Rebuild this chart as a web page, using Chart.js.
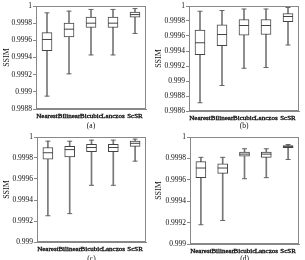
<!DOCTYPE html>
<html>
<head>
<meta charset="utf-8">
<script src="https://cdn.jsdelivr.net/npm/chart.js@4.4.0/dist/chart.umd.min.js"></script>
<style>
  html, body { margin: 0; padding: 0; background: #fff; }
  #wrap { position: relative; width: 305px; height: 260px; overflow: hidden; }
  .panel { position: absolute; }
</style>
</head>
<body>
<div id="wrap">
  <div class="panel" style="left:0;top:0;width:152px;height:131px"><canvas id="chartA"></canvas></div>
  <div class="panel" style="left:152px;top:0;width:153px;height:131px"><canvas id="chartB"></canvas></div>
  <div class="panel" style="left:0;top:130px;width:152px;height:134px"><canvas id="chartC"></canvas></div>
  <div class="panel" style="left:152px;top:130px;width:153px;height:134px"><canvas id="chartD"></canvas></div>
</div>
<script>
// categories
const methods = ["Nearest", "Bilinear", "Bicubic", "Lanczos", "ScSR"];

// (a)
const minA = [0.99895, 0.99921, 0.99943, 0.99943, 0.99968];
const q1A  = [0.99948, 0.99964, 0.99975, 0.99975, 0.99987];
const medA = [0.99961, 0.99973, 0.99980, 0.99980, 0.99990];
const q3A  = [0.99969, 0.99980, 0.99987, 0.99987, 0.99993];
const maxA = [0.99992, 0.99994, 0.99996, 0.99996, 0.99997];
const ticksA = [0.9988, 0.999, 0.9992, 0.9994, 0.9996, 0.9998, 1];

// (b)
const minB = [0.99871, 0.99894, 0.99917, 0.99918, 0.99948];
const q1B  = [0.99935, 0.99947, 0.99961, 0.99962, 0.99979];
const medB = [0.99951, 0.99962, 0.99974, 0.99974, 0.99986];
const q3B  = [0.99968, 0.99975, 0.99982, 0.99982, 0.99990];
const maxB = [0.99993, 0.99994, 0.99996, 0.99996, 0.99998];
const ticksB = [0.9986, 0.9988, 0.999, 0.9992, 0.9994, 0.9996, 0.9998, 1];

// (c)
const minC = [0.99925, 0.99927, 0.99954, 0.99954, 0.99977];
const q1C  = [0.99979, 0.99981, 0.99986, 0.99986, 0.99991];
const medC = [0.99985, 0.99988, 0.99990, 0.99990, 0.99994];
const q3C  = [0.99990, 0.99991, 0.99993, 0.99993, 0.99996];
const maxC = [0.99996, 0.99996, 0.99997, 0.99997, 0.99998];
const ticksC = [0.999, 0.9992, 0.9994, 0.9996, 0.9998, 1];

// (d)
const minD = [0.99918, 0.99922, 0.99961, 0.99962, 0.99979];
const q1D  = [0.99962, 0.99966, 0.99982, 0.99981, 0.99990];
const medD = [0.99971, 0.99971, 0.99984, 0.99984, 0.99991];
const q3D  = [0.99977, 0.99975, 0.99986, 0.99986, 0.99992];
const maxD = [0.99981, 0.99981, 0.99989, 0.99989, 0.99993];
const ticksD = [0.999, 0.9992, 0.9994, 0.9996, 0.9998, 1];

const serif = "'Liberation Serif', 'DejaVu Serif', serif";
const textColor = "#111";

// grey frame round the plot area
const framePlugin = {
    id: "frame",
    afterDraw(chart) {
        const a = chart.chartArea;
        const ctx = chart.ctx;
        ctx.save();
        ctx.strokeStyle = "#888";
        ctx.lineWidth = 1;
        ctx.strokeRect(Math.round(a.left) + 0.5, Math.round(a.top) + 0.5,
                       Math.round(a.right - a.left) - 1, Math.round(a.bottom - a.top) - 1);
        ctx.restore();
    }
};

function makeBoxChart(id, tag, mins, q1s, meds, q3s, maxs, yTicks, layout) {
    const ctx = document.getElementById(id).getContext("2d");
    return new Chart(ctx, {
        type: "bar",
        data: {
            labels: methods,
            datasets: [
                {
                    label: "box",
                    data: q1s.map((q, i) => [q, q3s[i]]),
                    backgroundColor: "#fff",
                    borderColor: "#444",
                    borderWidth: 1,
                    borderSkipped: false,
                    barThickness: 10,
                    grouped: false,
                    order: 1
                },
                {
                    label: "whisker",
                    data: mins.map((m, i) => [m, maxs[i]]),
                    backgroundColor: "#777",
                    borderWidth: 0,
                    barThickness: 1,
                    grouped: false,
                    order: 3
                },
                {
                    type: "line",
                    label: "median",
                    data: meds,
                    showLine: false,
                    pointStyle: "line",
                    pointRadius: 5,
                    pointBorderWidth: 1,
                    pointBorderColor: "#444",
                    order: 0
                },
                {
                    type: "line",
                    label: "max",
                    data: maxs,
                    showLine: false,
                    pointStyle: "line",
                    pointRadius: 2.5,
                    pointBorderWidth: 1,
                    pointBorderColor: "#666",
                    order: 2
                },
                {
                    type: "line",
                    label: "min",
                    data: mins,
                    showLine: false,
                    pointStyle: "line",
                    pointRadius: 2.5,
                    pointBorderWidth: 1,
                    pointBorderColor: "#666",
                    order: 2
                }
            ]
        },
        options: {
            responsive: true,
            maintainAspectRatio: false,
            animation: false,
            layout: { padding: { top: layout.top, right: layout.right, left: 0, bottom: 0 } },
            plugins: { legend: { display: false }, tooltip: { enabled: false } },
            scales: {
                x: {
                    grid: { display: false, drawTicks: false },
                    border: { color: "#888" },
                    ticks: {
                        autoSkip: false, maxRotation: 0, minRotation: 0, padding: 3,
                        color: textColor, font: { family: serif, size: 7 },
                        textStrokeColor: textColor, textStrokeWidth: 0.35
                    },
                    title: {
                        display: true, text: tag, color: textColor,
                        font: { family: serif, size: 7.5 }, padding: 0
                    },
                    afterFit: s => { s.height = layout.xh; }
                },
                y: {
                    min: yTicks[0],
                    max: yTicks[yTicks.length - 1],
                    afterBuildTicks: s => { s.ticks = yTicks.map(v => ({ value: v })); },
                    grid: { display: true, drawOnChartArea: false, drawTicks: true, tickLength: 3, color: "#888" },
                    border: { color: "#888" },
                    ticks: {
                        padding: 1, color: textColor, font: { family: serif, size: 7.5 },
                        callback: v => String(Number(v.toFixed(4)))
                    },
                    title: {
                        display: true, text: "SSIM", color: textColor,
                        font: { family: serif, size: 8 }, padding: { top: 2, bottom: 0 }
                    },
                    afterFit: s => { s.width = layout.yw; }
                }
            }
        },
        plugins: [framePlugin]
    });
}

makeBoxChart("chartA", "(a)", minA, q1A, medA, q3A, maxA, ticksA, { top: 5, right: 3, yw: 36, xh: 22 });
makeBoxChart("chartB", "(b)", minB, q1B, medB, q3B, maxB, ticksB, { top: 5, right: 3, yw: 37, xh: 20 });
makeBoxChart("chartC", "(c)", minC, q1C, medC, q3C, maxC, ticksC, { top: 7, right: 3, yw: 37, xh: 22 });
makeBoxChart("chartD", "(d)", minD, q1D, medD, q3D, maxD, ticksD, { top: 7, right: 3, yw: 38, xh: 20 });
</script>
</body>
</html>
